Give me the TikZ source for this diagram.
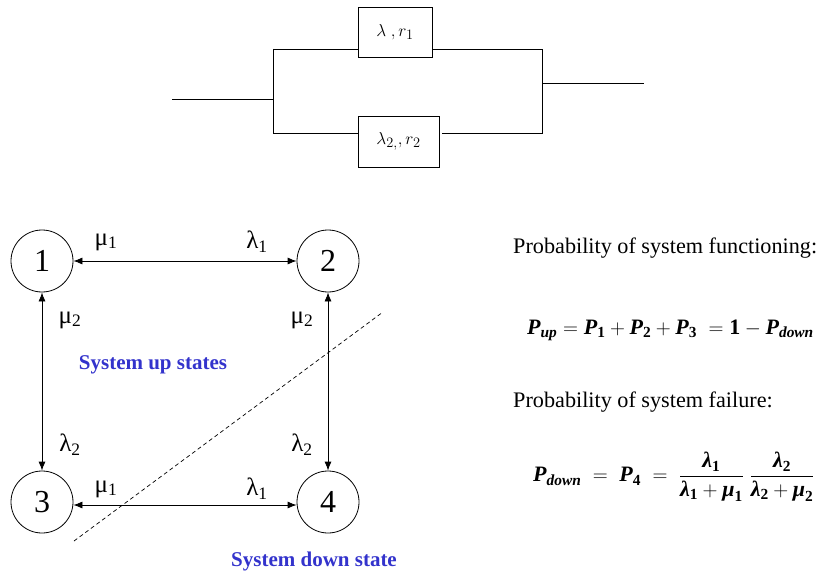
\documentclass[tikz,border=0pt]{standalone}
\usepackage{amsmath}
\usepackage{fontspec}
\setmainfont{Liberation Serif}
\usetikzlibrary{arrows.meta}
\definecolor{zoneblue}{RGB}{51,51,204}
\newcommand\bi[1]{\text{\bfseries\itshape #1}}
\newcommand\bu[1]{\text{\bfseries #1}}
\begin{document}
\begin{tikzpicture}[x=1pt,y=-1pt,
  state/.style={circle,draw,line width=0.8pt,minimum size=62pt,inner sep=0pt,font=\fontsize{32}{36}\selectfont},
  blk/.style={draw,line width=0.7pt,inner sep=0pt,font=\fontsize{19}{22}\selectfont},
  wire/.style={line width=0.7pt},
  trans/.style={line width=0.8pt,{Latex[length=9pt,width=7pt]}-{Latex[length=9pt,width=7pt]}},
  rate/.style={font=\fontsize{25}{28}\selectfont,inner sep=0pt},
  zone/.style={font=\fontsize{21}{24}\selectfont\bfseries,text=zoneblue,inner sep=0pt},
  txt/.style={font=\fontsize{22.2}{26}\selectfont,anchor=west,inner sep=0pt},
  eq/.style={font=\fontsize{22}{26}\selectfont,anchor=west,inner sep=0pt},
  cut/.style={line width=0.7pt,dash pattern=on 4pt off 3pt},
]
\useasboundingbox (0,0) rectangle (818,577);
% block diagram
\node[blk,minimum width=74pt,minimum height=50pt] (b1) at (395,32) {$\lambda\ ,r_1$};
\node[blk,minimum width=81pt,minimum height=51pt] (b2) at (398.5,141.5) {$\lambda_{2,},r_2$};
\coordinate (in) at (172,99);
\coordinate (jl) at (273,99);
\coordinate (tl) at (273,49);
\coordinate (bl) at (273,133);
\coordinate (tr) at (542,49);
\coordinate (br) at (542,133);
\coordinate (jr) at (542,83);
\coordinate (out) at (644,83);
\draw[wire] (in) -- (jl);
\draw[wire] (tl) -- (bl);
\draw[wire] (tl) -- (tl -| b1.west);
\draw[wire] (bl) -- (bl -| b2.west);
\draw[wire] (tl -| b1.east) -- (tr) -- (br) -- ([xshift=3pt]bl -| b2.east);
\draw[wire] (jr) -- (out);
% state diagram
\node[state] (s1) at (42,261) {1};
\node[state] (s2) at (328,261) {2};
\node[state] (s3) at (42,502) {3};
\node[state] (s4) at (328,502) {4};
\draw[trans] (s1) -- (s2);
\draw[trans] ([yshift=-3pt]s3.east) -- ([yshift=-3pt]s4.west);
\draw[trans] (s1) -- (s3);
\draw[trans] (s2) -- (s4);
\node[rate] (la) at (106,242) {μ\textsubscript{1}};
\node[rate] (lb) at (257,242) {λ\textsubscript{1}};
\node[rate] (lc) at (70,320) {μ\textsubscript{2}};
\node[rate] (ld) at (302,320) {μ\textsubscript{2}};
\node[rate] (le) at (70,445) {λ\textsubscript{2}};
\node[rate] (lf) at (302,445) {λ\textsubscript{2}};
\node[rate] (lg) at (106,489) {μ\textsubscript{1}};
\node[rate] (lh) at (257,489) {λ\textsubscript{1}};
\coordinate (d1) at (74,541);
\coordinate (d2) at (383,312);
\draw[cut] (d1) -- (d2);
\node[zone] (up) at (153,365) {System up states};
\node[zone] (down) at (314,561) {System down state};
% formulas
\node[txt] (t1) at (513,248) {Probability of system functioning:};
\node[eq] (e1) at (527,330) {$\bi{P}_{\bi{up}} = \bi{P}_{\bu{1}} + \bi{P}_{\bu{2}} + \bi{P}_{\bu{3}} \;= \bu{1} - \bi{P}_{\bi{down}}$};
\node[txt] (t2) at (513,402) {Probability of system failure:};
\node[eq] (e2) at (533,477) {$\bi{P}_{\bi{down}} \;=\; \bi{P}_{\bu{4}} \;=\; \dfrac{\bi{λ}_{\bu{1}}}{\bi{λ}_{\bu{1}} + \bi{μ}_{\bu{1}}}\;\dfrac{\bi{λ}_{\bu{2}}}{\bi{λ}_{\bu{2}} + \bi{μ}_{\bu{2}}}$};
\end{tikzpicture}
\end{document}
